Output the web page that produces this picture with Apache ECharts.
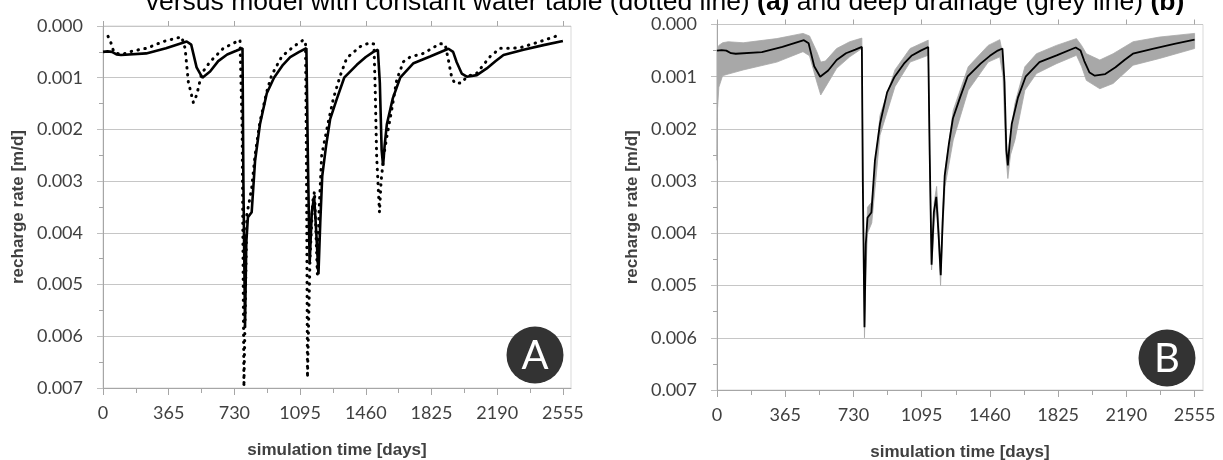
<!DOCTYPE html>
<html>
<head>
<meta charset="utf-8">
<script src="https://cdn.jsdelivr.net/npm/echarts@6/dist/echarts.min.js"></script>
<style>
  html, body { margin: 0; padding: 0; background: #fff; }
  #chart { width: 1223px; height: 460px; }
</style>
</head>
<body>
<div id="chart"></div>
<script>
// tick labels on the time axis (days)
const xTicks = [0, 365, 730, 1095, 1460, 1825, 2190, 2555]
const xMinor = xTicks.slice(0, -1).map((v, i) => (v + xTicks[i + 1]) / 2)

// reference model (solid line in A, black line in B)
const modelDays = [0, 25, 50, 75, 100, 240, 350, 465, 490, 520, 552, 595, 640, 690, 740, 775, 780, 789, 796, 805, 812, 826, 845, 872, 910, 950, 1000, 1040, 1090, 1130, 1138, 1148, 1160, 1173, 1185, 1197, 1207, 1218, 1240, 1262, 1300, 1340, 1410, 1460, 1502, 1527, 1538, 1548, 1556, 1565, 1577, 1610, 1651, 1725, 1817, 1919, 1945, 1965, 1993, 2021, 2077, 2132, 2180, 2225, 2336, 2447, 2555]
const modelRate = [0.0005, 0.00049, 0.0005, 0.00055, 0.00056, 0.00053, 0.00043, 0.0003, 0.00036, 0.0008, 0.001, 0.00088, 0.00068, 0.00055, 0.00048, 0.00043, 0.003, 0.0058, 0.0042, 0.0037, 0.00368, 0.0036, 0.0026, 0.0019, 0.0013, 0.001, 0.00075, 0.0006, 0.0005, 0.00043, 0.0025, 0.0046, 0.0036, 0.0033, 0.004, 0.0048, 0.0038, 0.0029, 0.0023, 0.0018, 0.0014, 0.001, 0.00075, 0.0006, 0.0005, 0.00046, 0.0011, 0.0024, 0.0027, 0.0023, 0.0019, 0.0014, 0.001, 0.00072, 0.00059, 0.00044, 0.0005, 0.0007, 0.00092, 0.00098, 0.00095, 0.00082, 0.00068, 0.00056, 0.00046, 0.00037, 0.00029]

// model with constant water table (dotted line, A)
const cwtDays = [28, 40, 55, 65, 104, 168, 243, 335, 437, 456, 474, 502, 521, 548, 595, 669, 761, 770, 773, 778, 783, 790, 799, 826, 845, 872, 910, 937, 993, 1058, 1113, 1125, 1130, 1136, 1150, 1165, 1175, 1185, 1191, 1200, 1215, 1252, 1280, 1317, 1354, 1428, 1484, 1505, 1512, 1520, 1530, 1536, 1545, 1560, 1577, 1604, 1632, 1669, 1706, 1780, 1873, 1901, 1919, 1938, 1956, 1993, 2021, 2077, 2151, 2206, 2271, 2318, 2429, 2540]
const cwtRate = [0.0002, 0.00028, 0.00045, 0.00052, 0.00055, 0.00048, 0.00043, 0.0003, 0.00021, 0.00043, 0.00108, 0.00148, 0.00133, 0.00092, 0.00069, 0.00043, 0.00027, 0.0003, 0.002, 0.0045, 0.00698, 0.0055, 0.00365, 0.00314, 0.00249, 0.00185, 0.00127, 0.00095, 0.00059, 0.0004, 0.00027, 0.0003, 0.0025, 0.0068, 0.0045, 0.0034, 0.0032, 0.0042, 0.0048, 0.0036, 0.0025, 0.00185, 0.0014, 0.00097, 0.00062, 0.0004, 0.00032, 0.00035, 0.0012, 0.0025, 0.0032, 0.0036, 0.003, 0.0025, 0.00214, 0.00162, 0.00104, 0.00069, 0.0006, 0.00053, 0.00034, 0.00036, 0.00066, 0.00101, 0.00111, 0.0011, 0.00098, 0.00091, 0.00059, 0.00043, 0.00043, 0.00042, 0.0003, 0.00017]

// model with deep drainage (grey band, B): upper and lower envelope
const ddDays = [0, 3, 10, 30, 60, 140, 320, 460, 495, 534, 555, 580, 640, 710, 775, 779, 789, 797, 805, 828, 872, 952, 1033, 1130, 1138, 1148, 1162, 1175, 1186, 1196, 1207, 1220, 1264, 1344, 1451, 1513, 1530, 1545, 1556, 1570, 1594, 1647, 1709, 1816, 1923, 1950, 1976, 2048, 2119, 2226, 2368, 2555]
const ddUpper = [0.0005, 0.00045, 0.0004, 0.00035, 0.00033, 0.00035, 0.00027, 0.00017, 0.00022, 0.00052, 0.00072, 0.0007, 0.00046, 0.00033, 0.00026, 0.0018, 0.0057, 0.0045, 0.0035, 0.0034, 0.00174, 0.00087, 0.00046, 0.0003, 0.0024, 0.0044, 0.0034, 0.0031, 0.0038, 0.0046, 0.0036, 0.0028, 0.00164, 0.00081, 0.0004, 0.00029, 0.0006, 0.0021, 0.0026, 0.0021, 0.00151, 0.00081, 0.00056, 0.0004, 0.00027, 0.0004, 0.00056, 0.00068, 0.00056, 0.00033, 0.00024, 0.00017]
const ddLower = [0.0026, 0.0016, 0.0012, 0.00098, 0.00095, 0.00087, 0.00072, 0.00052, 0.0006, 0.0011, 0.00135, 0.0012, 0.00084, 0.00062, 0.00046, 0.0025, 0.006, 0.0047, 0.004, 0.0038, 0.00212, 0.00119, 0.00072, 0.00059, 0.0028, 0.0047, 0.0038, 0.0034, 0.0042, 0.005, 0.004, 0.0031, 0.00221, 0.00126, 0.00072, 0.00062, 0.001, 0.0025, 0.00295, 0.0025, 0.00221, 0.00126, 0.00094, 0.00075, 0.00059, 0.0008, 0.00107, 0.00123, 0.00113, 0.00078, 0.00065, 0.00046]

const pairs = (xs, ys) => xs.map((x, i) => [x, ys[i]])

const labelColor = '#404040'
const axisColor = '#a6a6a6'
const nameStyle = {
  fontFamily: 'Liberation Sans',
  fontWeight: 'bold',
  fontSize: 17,
  color: labelColor
}

function timeAxes (gridIndex) {
  const base = {
    gridIndex: gridIndex,
    type: 'value',
    min: 0,
    max: 2600,
    interval: 365,
    position: 'bottom',
    splitLine: { show: false }
  }
  return [
    Object.assign({}, base, {
      axisLine: { onZero: false, lineStyle: { color: axisColor } },
      axisTick: { length: 7, customValues: xTicks, lineStyle: { color: axisColor } },
      axisLabel: {
        customValues: xTicks,
        margin: 16,
        color: labelColor,
        fontFamily: 'Lato',
        fontSize: 18,
        formatter: v => String(v)
      },
      name: 'simulation time [days]',
      nameLocation: 'middle',
      nameGap: 54,
      nameTextStyle: nameStyle
    }),
    // major ticks also cross into the plot
    Object.assign({}, base, {
      axisLine: { show: false },
      axisTick: { inside: true, length: 5, customValues: xTicks, lineStyle: { color: axisColor } },
      axisLabel: { show: false }
    }),
    // minor ticks at half years
    Object.assign({}, base, {
      axisLine: { show: false },
      axisTick: { length: 5, customValues: xMinor, lineStyle: { color: axisColor } },
      axisLabel: { show: false }
    })
  ]
}

function rateAxis (gridIndex) {
  return {
    gridIndex: gridIndex,
    type: 'value',
    min: 0,
    max: 0.007,
    interval: 0.001,
    inverse: true,
    axisLine: { show: true, onZero: false, lineStyle: { color: axisColor } },
    axisTick: { show: true, length: 6, lineStyle: { color: '#bfbfbf' } },
    minorTick: { show: true, splitNumber: 2, length: 4, lineStyle: { color: axisColor } },
    axisLabel: {
      margin: 20,
      color: labelColor,
      fontFamily: 'Lato',
      fontSize: 18,
      formatter: v => v.toFixed(3)
    },
    splitLine: { lineStyle: { color: '#c6c6c6' } },
    name: 'recharge rate [m/d]',
    nameLocation: 'middle',
    nameGap: 76,
    nameRotate: 90,
    nameTextStyle: nameStyle
  }
}

function badge (cx, cy, letter) {
  return {
    type: 'group',
    z: 100,
    children: [
      { type: 'circle', z: 100, shape: { cx: cx, cy: cy, r: 28.5 }, style: { fill: '#333333' } },
      {
        type: 'text',
        z: 101,
        style: {
          x: cx, y: cy + 1, text: letter, fill: '#fff',
          font: '40px Lato', textAlign: 'center', textVerticalAlign: 'middle'
        }
      }
    ]
  }
}

// grey band between the upper and lower envelope, one polygon through the axes
function renderBand (params, api) {
  if (params.dataIndex !== 0) return
  const top = ddDays.map((d, i) => api.coord([d, ddUpper[i]]))
  const bottom = ddDays.map((d, i) => api.coord([d, ddLower[i]])).reverse()
  return {
    type: 'polygon',
    shape: { points: top.concat(bottom) },
    style: { fill: '#a8a8a8', stroke: '#a8a8a8', lineWidth: 0.8 }
  }
}

const chart = echarts.init(document.getElementById('chart'))

const titleFont = { fontFamily: 'Liberation Sans', fontSize: 26.5, fill: '#000' }

chart.setOption({
  animation: false,
  grid: [
    { left: 103, top: 26, right: 652, bottom: 72, outerBoundsMode: 'none', show: true, borderColor: '#d9d9d9', borderWidth: 1 },
    { left: 717, top: 24.5, right: 20, bottom: 70, outerBoundsMode: 'none', show: true, borderColor: '#d9d9d9', borderWidth: 1 }
  ],
  xAxis: timeAxes(0).concat(timeAxes(1)),
  yAxis: [rateAxis(0), rateAxis(1)],
  series: [
    {
      name: 'model',
      type: 'line',
      xAxisIndex: 0,
      yAxisIndex: 0,
      showSymbol: false,
      data: pairs(modelDays, modelRate),
      lineStyle: { color: '#000', width: 2.6 }
    },
    {
      name: 'constant water table',
      type: 'line',
      xAxisIndex: 0,
      yAxisIndex: 0,
      showSymbol: false,
      data: pairs(cwtDays, cwtRate),
      lineStyle: { color: '#000', width: 3, type: [0.5, 6.5], cap: 'round' }
    },
    {
      name: 'deep drainage',
      type: 'custom',
      xAxisIndex: 3,
      yAxisIndex: 1,
      renderItem: renderBand,
      data: ddDays.map((d, i) => [d, ddUpper[i], ddLower[i]]),
      encode: { x: 0, y: [1, 2] }
    },
    {
      name: 'model',
      type: 'line',
      xAxisIndex: 3,
      yAxisIndex: 1,
      showSymbol: false,
      data: pairs(modelDays, modelRate),
      lineStyle: { color: '#000', width: 1.8 }
    }
  ],
  graphic: [
    {
      type: 'text',
      z: 100,
      style: Object.assign({
        x: 665,
        y: 2.5,
        text: 'versus model with constant water table (dotted line) {b|(a)} and deep drainage (grey line) {b|(b)}',
        textAlign: 'center',
        textVerticalAlign: 'middle',
        rich: { b: Object.assign({ fontWeight: 'bold' }, titleFont) }
      }, titleFont)
    },
    badge(535, 355, 'A'),
    badge(1167, 358, 'B')
  ]
})
</script>
</body>
</html>
